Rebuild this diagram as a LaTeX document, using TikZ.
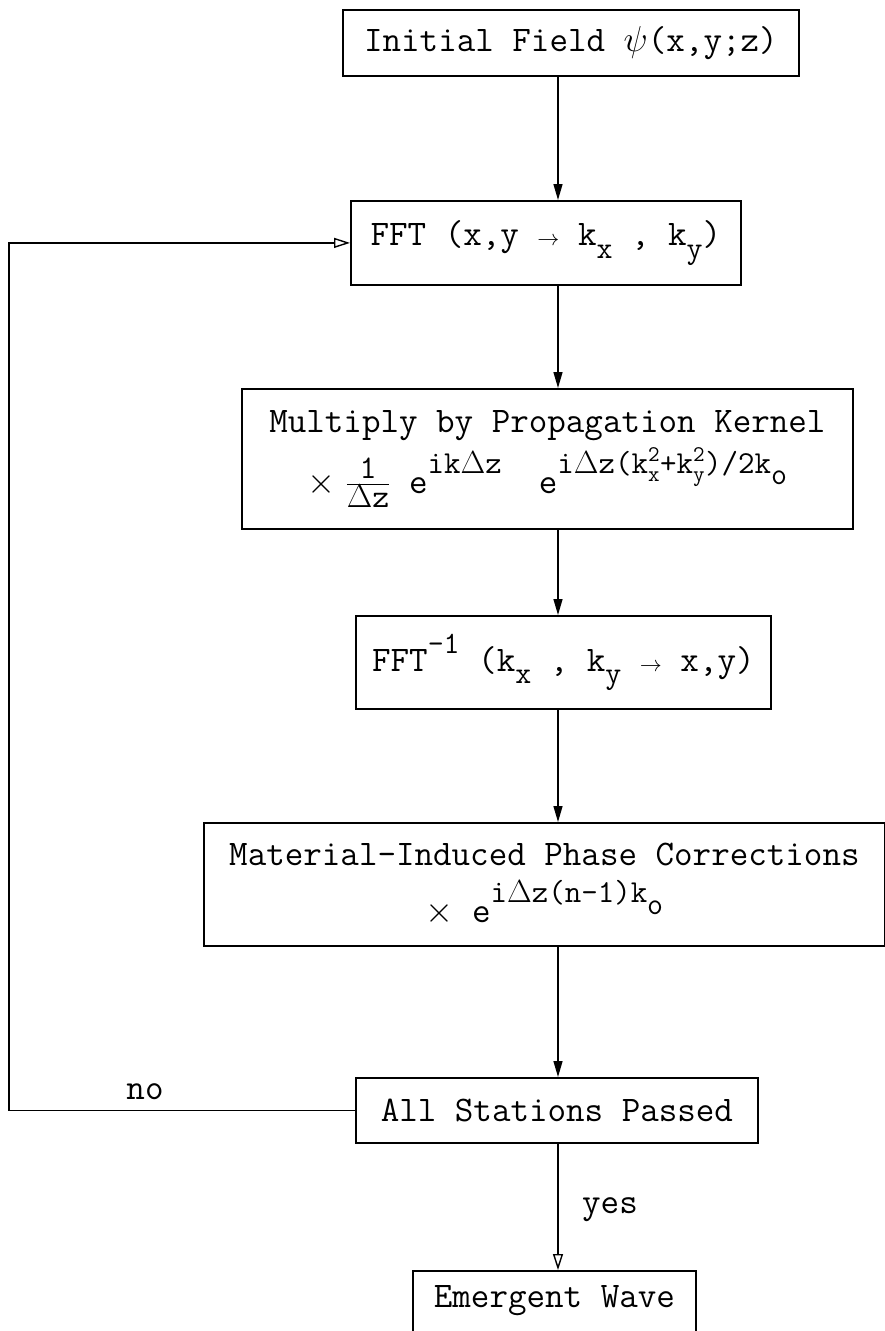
\RequirePackage{fix-cm}
\documentclass[tikz,border=0pt]{standalone}
\usepackage{tikz}
\usetikzlibrary{positioning,arrows.meta,calc}
\newcommand{\mt}[1]{\mathtt{#1}}
\newcommand{\tsz}{\fontsize{32}{32}\selectfont}
\newcommand{\fsz}{\fontsize{33}{33}\selectfont}
\newcommand{\subtt}[1]{\raisebox{-0.35em}{\fontsize{31}{31}\selectfont #1}}
\newcommand{\suptt}[1]{\raisebox{0.5em}{\fontsize{31}{31}\selectfont #1}}
\newcommand{\ex}[1]{\raisebox{0.55em}{\tsz #1}}
\newcommand{\arw}{{\fontsize{22}{22}\selectfont$\rightarrow$}}

\begin{document}
\begin{tikzpicture}[x=1pt,y=-1pt]
\ttfamily
\fontsize{36}{43}\selectfont
\tikzstyle{basenode}=[align=center, inner sep=0pt];
\tikzstyle{block}=[basenode, draw, line width=1.8pt, anchor=north west];
\tikzstyle{lbl}=[basenode];
\tikzstyle{basearr}=[line width=1.4pt, black];
\tikzstyle{arr}=[basearr, -{Triangle[length=16pt,width=9pt]}];
\tikzstyle{openarr}=[basearr, -{Triangle[open,length=16pt,width=10pt]}];

\useasboundingbox (0,0) rectangle (884,1331);

\coordinate (col) at (558,0);
\coordinate (edge) at (9,0);

\node[block, minimum width=456pt, minimum height=66pt] (init) at (342,9) {Initial Field $\psi$(x,y;z)};
\node[block, minimum width=390pt, minimum height=84pt] (fft) at (350,200) {FFT (x,y \arw\ k\subtt{x} , k\subtt{y})};
\node[block, minimum width=611pt, minimum height=140pt] (kern) at (241,388) {Multiply by Propagation Kernel\\[6pt]
  $\times\;\frac{\mbox{\fsz 1}}{\mbox{\fsz$\Delta$z}}$ e\ex{ik$\Delta$z}\ \ e\ex{i$\Delta$z(k$^{\mt{2}}_{\mt{x}}$+k$^{\mt{2}}_{\mt{y}}$)/2k\subtt{o}}};
\node[block, minimum width=415pt, minimum height=93pt] (ifft) at (355,615) {FFT\suptt{-1} (k\subtt{x} , k\subtt{y} \arw\ x,y)};
\node[block, minimum width=681pt, minimum height=123pt] (phase) at (203,822) {Material-Induced Phase Corrections\\[14pt]
  $\times$\ e\ex{i$\Delta$z(n-1)k\subtt{o}}};
\node[block, minimum width=402pt, minimum height=65pt] (pass) at (355,1077) {All Stations Passed};
\node[block, minimum width=283pt, text height=37pt, text depth=50pt] (emerge) at (412,1270) {Emergent Wave};

\node[lbl] (nolbl) at (145,1092) {no};
\node[lbl] (yeslbl) at (610,1210) {yes};

\draw[arr] (init.south -| col) -- (fft.north -| col);
\draw[arr] (fft.south -| col) -- (kern.north -| col);
\draw[arr] (kern.south -| col) -- (ifft.north -| col);
\draw[arr] (ifft.south -| col) -- (phase.north -| col);
\draw[arr] (phase.south -| col) -- (pass.north -| col);
\draw[openarr] (pass.south -| col) -- (emerge.north -| col);

% loop back for the next station
\draw[openarr] (pass.west) -- (pass.west -| edge) -- (fft.west -| edge) -- (fft.west);

\end{tikzpicture}
\end{document}
